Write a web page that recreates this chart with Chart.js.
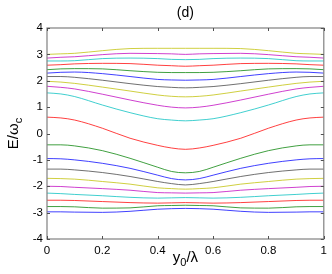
<!DOCTYPE html>
<html>
<head>
<meta charset="utf-8">
<script src="https://cdn.jsdelivr.net/npm/chart.js@4"></script>
<style>
html,body{margin:0;padding:0;background:#fff;}
#wrap{width:332px;height:274px;}
</style>
</head>
<body>
<div id="wrap"><canvas id="c" width="332" height="274"></canvas></div>
<script>
// ---- data ----
const xValues = [0, 0.05, 0.1, 0.2, 0.3, 0.4, 0.45, 0.5, 0.55, 0.6, 0.7, 0.8, 0.9, 0.95, 1.0];
const xTicks = [0, 0.2, 0.4, 0.6, 0.8, 1];
const yTicks = [-4, -3, -2, -1, 0, 1, 2, 3, 4];

const band01 = [-2.97, -2.97, -2.98, -2.99, -2.95, -2.87, -2.85, -2.84, -2.85, -2.87, -2.95, -2.99, -2.98, -2.97, -2.97];
const band02 = [-2.77, -2.77, -2.78, -2.83, -2.82, -2.74, -2.73, -2.72, -2.73, -2.74, -2.82, -2.83, -2.78, -2.77, -2.77];
const band03 = [-2.53, -2.53, -2.54, -2.58, -2.62, -2.64, -2.63, -2.62, -2.63, -2.64, -2.62, -2.58, -2.54, -2.53, -2.53];
const band04 = [-2.26, -2.28, -2.31, -2.36, -2.42, -2.45, -2.44, -2.43, -2.44, -2.45, -2.42, -2.36, -2.31, -2.28, -2.26];
const band05 = [-2.00, -2.01, -2.04, -2.09, -2.15, -2.24, -2.25, -2.26, -2.25, -2.24, -2.15, -2.09, -2.04, -2.01, -2.00];
const band06 = [-1.70, -1.71, -1.73, -1.82, -1.92, -2.06, -2.09, -2.11, -2.09, -2.06, -1.92, -1.82, -1.73, -1.71, -1.70];
const band07 = [-1.35, -1.35, -1.38, -1.48, -1.63, -1.82, -1.90, -1.95, -1.90, -1.82, -1.63, -1.48, -1.38, -1.35, -1.35];
const band08 = [-0.95, -0.96, -1.00, -1.13, -1.32, -1.58, -1.71, -1.76, -1.71, -1.58, -1.32, -1.13, -1.00, -0.96, -0.95];
const band09 = [-0.43, -0.43, -0.47, -0.65, -0.94, -1.28, -1.44, -1.49, -1.44, -1.28, -0.94, -0.65, -0.47, -0.43, -0.43];
const band10 = [0.62, 0.59, 0.51, 0.20, -0.18, -0.45, -0.55, -0.60, -0.55, -0.45, -0.18, 0.20, 0.51, 0.59, 0.62];
const band11 = [1.54, 1.50, 1.40, 1.08, 0.79, 0.56, 0.51, 0.48, 0.51, 0.56, 0.79, 1.08, 1.40, 1.50, 1.54];
const band12 = [1.79, 1.75, 1.69, 1.49, 1.27, 1.07, 1.00, 0.97, 1.00, 1.07, 1.27, 1.49, 1.69, 1.75, 1.79];
const band13 = [1.98, 1.95, 1.90, 1.76, 1.61, 1.46, 1.41, 1.39, 1.41, 1.46, 1.61, 1.76, 1.90, 1.95, 1.98];
const band14 = [2.16, 2.16, 2.13, 2.02, 1.89, 1.78, 1.75, 1.73, 1.75, 1.78, 1.89, 2.02, 2.13, 2.16, 2.16];
const band15 = [2.29, 2.32, 2.33, 2.27, 2.16, 2.05, 2.03, 2.02, 2.03, 2.05, 2.16, 2.27, 2.33, 2.32, 2.29];
const band16 = [2.42, 2.45, 2.46, 2.45, 2.38, 2.32, 2.31, 2.31, 2.31, 2.32, 2.38, 2.45, 2.46, 2.45, 2.42];
const band17 = [2.59, 2.61, 2.64, 2.66, 2.65, 2.59, 2.57, 2.55, 2.57, 2.59, 2.65, 2.66, 2.64, 2.61, 2.59];
const band18 = [2.75, 2.75, 2.76, 2.84, 2.86, 2.84, 2.81, 2.80, 2.81, 2.84, 2.86, 2.84, 2.76, 2.75, 2.75];
const band19 = [2.86, 2.89, 2.91, 2.99, 3.04, 3.03, 3.02, 3.00, 3.02, 3.03, 3.04, 2.99, 2.91, 2.89, 2.86];
const band20 = [3.00, 3.02, 3.04, 3.14, 3.22, 3.23, 3.23, 3.23, 3.23, 3.23, 3.22, 3.14, 3.04, 3.02, 3.00];

const bands = [band01, band02, band03, band04, band05, band06, band07, band08, band09, band10,
               band11, band12, band13, band14, band15, band16, band17, band18, band19, band20];
const lineColors = ['#0000ff', '#008000', '#ff0000', '#00bfbf', '#bf00bf', '#bfbf00', '#404040'];

const FONT = '"Liberation Sans", Arial, Helvetica, sans-serif';

const datasets = bands.map((b, i) => ({
  data: b.map((v, j) => ({x: xValues[j], y: v})),
  borderColor: lineColors[i % lineColors.length],
  borderWidth: 0.75,
  pointRadius: 0,
  fill: false,
  cubicInterpolationMode: 'monotone'
}));

const framePlugin = {
  id: 'frame',
  afterDraw(chart) {
    const ctx = chart.ctx;
    const {left, right, top, bottom} = chart.chartArea;
    const xs = chart.scales.x, ys = chart.scales.y;
    ctx.save();
    ctx.strokeStyle = '#808080';
    ctx.lineWidth = 1.2;
    ctx.strokeRect(left, top, right - left, bottom - top);
    // inward ticks
    ctx.lineWidth = 1;
    ctx.strokeStyle = '#505050';
    const tl = 3;
    ctx.beginPath();
    xTicks.forEach(t => {
      const px = Math.round(xs.getPixelForValue(t)) + 0.5;
      ctx.moveTo(px, bottom); ctx.lineTo(px, bottom - tl);
      ctx.moveTo(px, top); ctx.lineTo(px, top + tl);
    });
    yTicks.forEach(t => {
      const py = Math.round(ys.getPixelForValue(t)) + 0.5;
      ctx.moveTo(left, py); ctx.lineTo(left + tl, py);
      ctx.moveTo(right, py); ctx.lineTo(right - tl, py);
    });
    ctx.stroke();

    // title
    ctx.fillStyle = '#000';
    ctx.font = '14px ' + FONT;
    ctx.textAlign = 'center';
    ctx.textBaseline = 'middle';
    ctx.fillText('(d)', (left + right) / 2, 13);

    // x label: y0/λ
    const big = '15px ' + FONT, small = '11px ' + FONT;
    ctx.textBaseline = 'alphabetic';
    ctx.textAlign = 'left';
    ctx.font = big; const wy = ctx.measureText('y').width;
    ctx.font = small; const w0 = ctx.measureText('0').width;
    ctx.font = big; const wr = ctx.measureText('/λ').width;
    let x0 = (left + right) / 2 - (wy + w0 + wr) / 2;
    const base = 262;
    ctx.font = big; ctx.fillText('y', x0, base);
    ctx.font = small; ctx.fillText('0', x0 + wy, base + 4);
    ctx.font = big; ctx.fillText('/λ', x0 + wy + w0, base);

    // y label: E/ωc rotated
    ctx.save();
    ctx.translate(18, (top + bottom) / 2);
    ctx.rotate(-Math.PI / 2);
    ctx.font = big; const wE = ctx.measureText('E/ω').width;
    ctx.font = small; const wc = ctx.measureText('c').width;
    const s0 = -(wE + wc) / 2;
    ctx.font = big; ctx.fillText('E/ω', s0, 0);
    ctx.font = small; ctx.fillText('c', s0 + wE, 4);
    ctx.restore();
    ctx.restore();
  }
};

new Chart(document.getElementById('c'), {
  type: 'line',
  data: {datasets},
  options: {
    responsive: false,
    animation: false,
    devicePixelRatio: 1,
    layout: {padding: {top: 28, right: 7, left: 0, bottom: 0}},
    plugins: {legend: {display: false}, tooltip: {enabled: false}},
    scales: {
      x: {
        type: 'linear', min: 0, max: 1,
        afterBuildTicks: s => { s.ticks = xTicks.map(v => ({value: v})); },
        ticks: {color: '#000', font: {family: FONT, size: 11.5}, padding: 5, maxRotation: 0, autoSkip: false,
                callback: v => String(v)},
        grid: {display: false, drawTicks: false},
        border: {display: false},
        afterFit: s => { s.height = 35; }
      },
      y: {
        type: 'linear', min: -4, max: 4,
        afterBuildTicks: s => { s.ticks = yTicks.map(v => ({value: v})); },
        ticks: {color: '#000', font: {family: FONT, size: 11.5}, padding: 4, autoSkip: false},
        grid: {display: false, drawTicks: false},
        border: {display: false},
        afterFit: s => { s.width = 47; }
      }
    }
  },
  plugins: [framePlugin]
});
</script>
</body>
</html>
